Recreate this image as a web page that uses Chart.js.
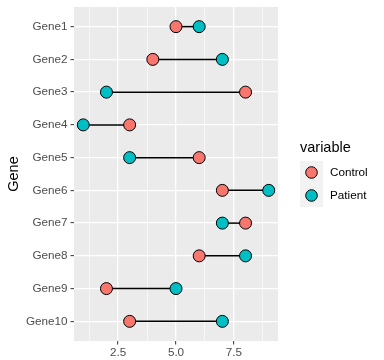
<!DOCTYPE html>
<html>
<head>
<meta charset="utf-8">
<script src="https://cdn.jsdelivr.net/npm/chart.js@4"></script>
<style>
  html, body { margin: 0; padding: 0; background: #fff; }
  #wrap { width: 384px; height: 360px; }
</style>
</head>
<body>
<div id="wrap"><canvas id="chart" width="384" height="360"></canvas></div>
<script>
const genes = ['Gene1', 'Gene2', 'Gene3', 'Gene4', 'Gene5', 'Gene6', 'Gene7', 'Gene8', 'Gene9', 'Gene10'];
const control = [5, 4, 8, 3, 6, 7, 8, 6, 2, 3];
const patient = [6, 7, 2, 1, 3, 9, 7, 8, 5, 7];
const xMajor = [2.5, 5, 7.5];
const xMinor = [1.25, 3.75, 6.25, 8.75];
const seriesNames = ['Control', 'Patient'];
const seriesColors = ['#F8766D', '#00BFC4'];

const FONT = '"Liberation Sans", Arial, sans-serif';

// grey panel like ggplot
const panelBg = {
  id: 'panelBg',
  beforeDraw(chart) {
    const { ctx, chartArea: a } = chart;
    ctx.save();
    ctx.fillStyle = '#fff';
    ctx.fillRect(0, 0, chart.width, chart.height);
    ctx.fillStyle = '#EBEBEB';
    ctx.fillRect(a.left, a.top, a.right - a.left, a.bottom - a.top);
    ctx.restore();
  }
};

// legend drawn at the right
const sideLegend = {
  id: 'sideLegend',
  afterDraw(chart) {
    const ctx = chart.ctx;
    const x0 = 300, y0 = 161, key = 23;
    ctx.save();
    ctx.fillStyle = '#000';
    ctx.font = '14.5px ' + FONT;
    ctx.textBaseline = 'middle';
    ctx.textAlign = 'left';
    ctx.fillText('variable', x0, 148);
    seriesNames.forEach((name, i) => {
      const ky = y0 + i * key;
      ctx.fillStyle = '#F2F2F2';
      ctx.fillRect(x0, ky, key, key);
      ctx.beginPath();
      ctx.arc(x0 + key / 2, ky + key / 2, 5.8, 0, Math.PI * 2);
      ctx.fillStyle = seriesColors[i];
      ctx.fill();
      ctx.lineWidth = 1;
      ctx.strokeStyle = '#000';
      ctx.stroke();
      ctx.fillStyle = '#000';
      ctx.font = '11.7px ' + FONT;
      ctx.fillText(name, x0 + key + 7, ky + key / 2);
    });
    ctx.restore();
  }
};

const segments = genes.map((g, i) => ({
  type: 'line',
  data: [{ x: control[i], y: i }, { x: patient[i], y: i }],
  borderColor: '#000',
  borderWidth: 1.5,
  pointRadius: 0,
  showLine: true,
  order: 2
}));

const points = seriesNames.map((name, s) => ({
  type: 'scatter',
  label: name,
  data: (s === 0 ? control : patient).map((v, i) => ({ x: v, y: i })),
  backgroundColor: seriesColors[s],
  borderColor: '#000',
  borderWidth: 1,
  pointRadius: 6,
  pointHoverRadius: 6,
  order: 1
}));

new Chart(document.getElementById('chart'), {
  type: 'scatter',
  data: { datasets: [...segments, ...points] },
  plugins: [panelBg, sideLegend],
  options: {
    responsive: false,
    animation: false,
    layout: { padding: { top: 7, right: 106, left: 0, bottom: 0 } },
    plugins: { legend: { display: false }, tooltip: { enabled: false } },
    scales: {
      x: {
        type: 'linear',
        min: 0.6,
        max: 9.4,
        afterBuildTicks(scale) {
          scale.ticks = [...xMinor, ...xMajor].sort((a, b) => a - b).map(v => ({ value: v }));
        },
        afterFit(scale) {
          scale.height = 19;
          scale.paddingLeft = 0;
          scale.paddingRight = 0;
        },
        border: { display: false },
        grid: {
          color: '#fff',
          lineWidth: c => xMajor.includes(c.tick.value) ? 1.3 : 0.6,
          tickColor: c => xMajor.includes(c.tick.value) ? '#333333' : 'rgba(0,0,0,0)',
          tickWidth: 1,
          tickLength: 3.5
        },
        ticks: {
          autoSkip: false,
          maxRotation: 0,
          padding: 1,
          color: '#4D4D4D',
          font: { family: FONT, size: 11.7 },
          callback: v => xMajor.includes(v) ? v.toFixed(1) : ''
        }
      },
      y: {
        type: 'linear',
        min: -0.6,
        max: 9.6,
        reverse: true,
        afterBuildTicks(scale) {
          scale.ticks = genes.map((g, i) => ({ value: i }));
        },
        afterFit(scale) {
          scale.width = 74;
          scale.paddingTop = 0;
          scale.paddingBottom = 0;
        },
        border: { display: false },
        grid: {
          color: '#fff',
          lineWidth: 1.3,
          tickColor: '#333333',
          tickWidth: 1,
          tickLength: 3.5
        },
        ticks: {
          autoSkip: false,
          padding: 3,
          color: '#4D4D4D',
          font: { family: FONT, size: 11.7 },
          callback: v => genes[v]
        },
        title: {
          display: true,
          text: 'Gene',
          color: '#000',
          padding: { top: 5, bottom: 0 },
          font: { family: FONT, size: 14.5 }
        }
      }
    }
  }
});
</script>
</body>
</html>
